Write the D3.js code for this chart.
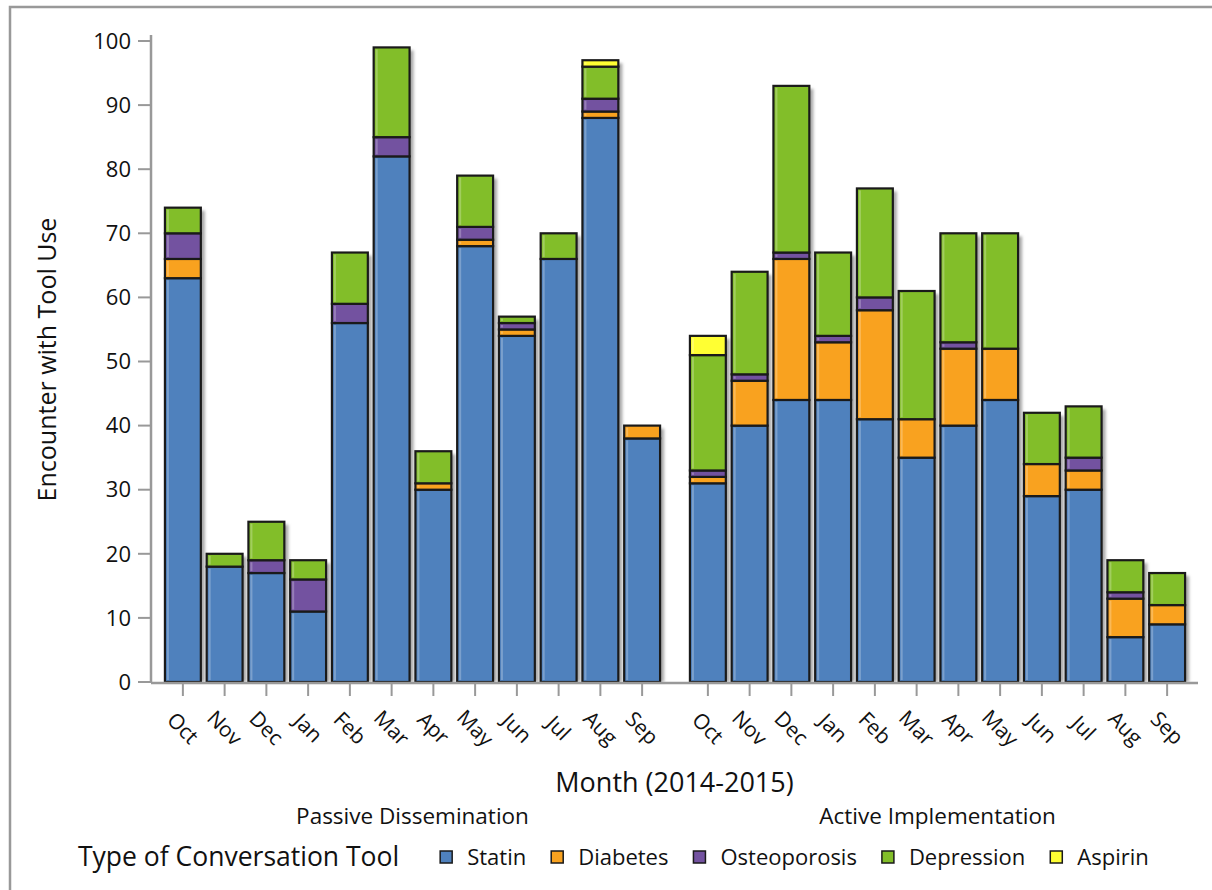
<!DOCTYPE html>
<html>
<head>
<meta charset="utf-8">
<script src="https://cdn.jsdelivr.net/npm/d3@7"></script>
<style>
  body { margin: 0; background: #fff; }
  text { font-family: "Open Sans", sans-serif; fill: #111; }
</style>
</head>
<body>
<svg></svg>
<script>
const width = 1212;
const height = 890;

const months = ['Oct', 'Nov', 'Dec', 'Jan', 'Feb', 'Mar', 'Apr', 'May', 'Jun', 'Jul', 'Aug', 'Sep'];
const groups = ['Passive Dissemination', 'Active Implementation'];
const tools = ['Statin', 'Diabetes', 'Osteoporosis', 'Depression', 'Aspirin'];
const colors = ['#4f81bd', '#f9a21f', '#7352a0', '#82be29', '#ffff33'];

// values per month, one array per tool
const passiveStatin       = [63, 18, 17, 11, 56, 82, 30, 68, 54, 66, 88, 38];
const passiveDiabetes     = [3, 0, 0, 0, 0, 0, 1, 1, 1, 0, 1, 2];
const passiveOsteoporosis = [4, 0, 2, 5, 3, 3, 0, 2, 1, 0, 2, 0];
const passiveDepression   = [4, 2, 6, 3, 8, 14, 5, 8, 1, 4, 5, 0];
const passiveAspirin      = [0, 0, 0, 0, 0, 0, 0, 0, 0, 0, 1, 0];

const activeStatin       = [31, 40, 44, 44, 41, 35, 40, 44, 29, 30, 7, 9];
const activeDiabetes     = [1, 7, 22, 9, 17, 6, 12, 8, 5, 3, 6, 3];
const activeOsteoporosis = [1, 1, 1, 1, 2, 0, 1, 0, 0, 2, 1, 0];
const activeDepression   = [18, 16, 26, 13, 17, 20, 17, 18, 8, 8, 5, 5];
const activeAspirin      = [3, 0, 0, 0, 0, 0, 0, 0, 0, 0, 0, 0];

const yTicks = [0, 10, 20, 30, 40, 50, 60, 70, 80, 90, 100];

const seriesByGroup = [
  [passiveStatin, passiveDiabetes, passiveOsteoporosis, passiveDepression, passiveAspirin],
  [activeStatin, activeDiabetes, activeOsteoporosis, activeDepression, activeAspirin]
];

const svg = d3.select('svg')
  .attr('width', width)
  .attr('height', height);

const defs = svg.append('defs');
defs.append('filter')
  .attr('id', 'shadow')
  .attr('x', '-20%').attr('y', '-20%')
  .attr('width', '140%').attr('height', '140%')
  .append('feGaussianBlur')
  .attr('stdDeviation', 1.5);

// outer frame
svg.append('rect')
  .attr('x', 10).attr('y', 7)
  .attr('width', width + 20).attr('height', height + 20)
  .attr('fill', 'none')
  .attr('stroke', '#999')
  .attr('stroke-width', 2.5);

const axisLeft = 151;
const axisRight = 1198;
const y = d3.scaleLinear().domain([0, 100]).range([682, 41]);

const xScales = [
  d3.scaleBand().domain(months).range([162, 663]).paddingInner(0.14).paddingOuter(0.07),
  d3.scaleBand().domain(months).range([687, 1188]).paddingInner(0.14).paddingOuter(0.07)
];

const color = d3.scaleOrdinal().domain(tools).range(colors);

// bars
seriesByGroup.forEach((series, gi) => {
  const x = xScales[gi];
  const rows = months.map((m, i) => {
    const row = { month: m };
    tools.forEach((t, ti) => { row[t] = series[ti][i]; });
    return row;
  });
  const stacked = d3.stack().keys(tools)(rows);
  const totals = rows.map(r => d3.sum(tools, t => r[t]));

  const g = svg.append('g');

  // shadows
  g.selectAll('rect.shadow')
    .data(rows)
    .join('rect')
    .attr('class', 'shadow')
    .attr('x', d => x(d.month) + 4)
    .attr('y', (d, i) => y(totals[i]) + 3)
    .attr('width', x.bandwidth())
    .attr('height', (d, i) => y(0) - y(totals[i]) - 3)
    .attr('fill', '#a8a8a8')
    .attr('filter', 'url(#shadow)');

  stacked.forEach(layer => {
    const segs = layer.filter(d => d[1] - d[0] > 0);
    g.selectAll(null)
      .data(segs)
      .join('rect')
      .attr('x', d => x(d.data.month))
      .attr('y', d => y(d[1]))
      .attr('width', x.bandwidth())
      .attr('height', d => y(d[0]) - y(d[1]))
      .attr('fill', color(layer.key))
      .attr('stroke', '#1a1a1a')
      .attr('stroke-width', 2.2);

    // soft highlight along the left inside edge
    g.selectAll(null)
      .data(segs)
      .join('rect')
      .attr('x', d => x(d.data.month) + 2)
      .attr('y', d => y(d[1]) + 2)
      .attr('width', 2)
      .attr('height', d => Math.max(0, y(d[0]) - y(d[1]) - 4))
      .attr('fill', '#fff')
      .attr('opacity', 0.25);
  });
});

// y axis
const yAxis = svg.append('g');
yAxis.append('line')
  .attr('x1', axisLeft).attr('x2', axisLeft)
  .attr('y1', 35).attr('y2', y(0) + 1)
  .attr('stroke', '#999').attr('stroke-width', 2.5);
yAxis.selectAll('line.tick')
  .data(yTicks)
  .join('line')
  .attr('class', 'tick')
  .attr('x1', axisLeft - 13).attr('x2', axisLeft)
  .attr('y1', d => y(d)).attr('y2', d => y(d))
  .attr('stroke', '#999').attr('stroke-width', 2);
yAxis.selectAll('text')
  .data(yTicks)
  .join('text')
  .attr('x', axisLeft - 20)
  .attr('y', d => y(d))
  .attr('dy', '0.35em')
  .attr('text-anchor', 'end')
  .style('font-size', '22px')
  .text(d => d);

svg.append('text')
  .attr('transform', `translate(56, ${y(50) - 2}) rotate(-90)`)
  .attr('text-anchor', 'middle')
  .style('font-size', '25px')
  .text('Encounter with Tool Use');

// x axis
svg.append('line')
  .attr('x1', axisLeft).attr('x2', axisRight)
  .attr('y1', y(0) + 1).attr('y2', y(0) + 1)
  .attr('stroke', '#999').attr('stroke-width', 2.5);

xScales.forEach((x, gi) => {
  const g = svg.append('g');
  g.selectAll('line')
    .data(months)
    .join('line')
    .attr('x1', d => x(d) + x.bandwidth() / 2)
    .attr('x2', d => x(d) + x.bandwidth() / 2)
    .attr('y1', y(0) + 1).attr('y2', y(0) + 14)
    .attr('stroke', '#999').attr('stroke-width', 2);
  g.selectAll('text')
    .data(months)
    .join('text')
    .attr('transform', d => `translate(${x(d) + x.bandwidth() / 2}, 728) rotate(45)`)
    .attr('text-anchor', 'middle')
    .attr('dy', '0.35em')
    .style('font-size', '21px')
    .text(d => d);

  const r = x.range();
  svg.append('text')
    .attr('x', (r[0] + r[1]) / 2)
    .attr('y', 824)
    .attr('text-anchor', 'middle')
    .style('font-size', '22.5px')
    .text(groups[gi]);
});

svg.append('text')
  .attr('x', (axisLeft + axisRight) / 2)
  .attr('y', 792)
  .attr('text-anchor', 'middle')
  .style('font-size', '27px')
  .text('Month (2014-2015)');

// legend
const legend = svg.append('g').attr('transform', 'translate(78, 857)');
const legendTitle = legend.append('text')
  .attr('x', 0).attr('y', 0)
  .attr('dy', '0.35em')
  .style('font-size', '26.5px')
  .text('Type of Conversation Tool');

let lx = legendTitle.node().getComputedTextLength() + 41;
tools.forEach(t => {
  legend.append('rect')
    .attr('x', lx).attr('y', -6)
    .attr('width', 12).attr('height', 12)
    .attr('fill', color(t))
    .attr('stroke', '#1a1a1a')
    .attr('stroke-width', 1.5);
  const label = legend.append('text')
    .attr('x', lx + 27).attr('y', 0)
    .attr('dy', '0.35em')
    .style('font-size', '22px')
    .text(t);
  lx += 27 + label.node().getComputedTextLength() + 25;
});
</script>
</body>
</html>
